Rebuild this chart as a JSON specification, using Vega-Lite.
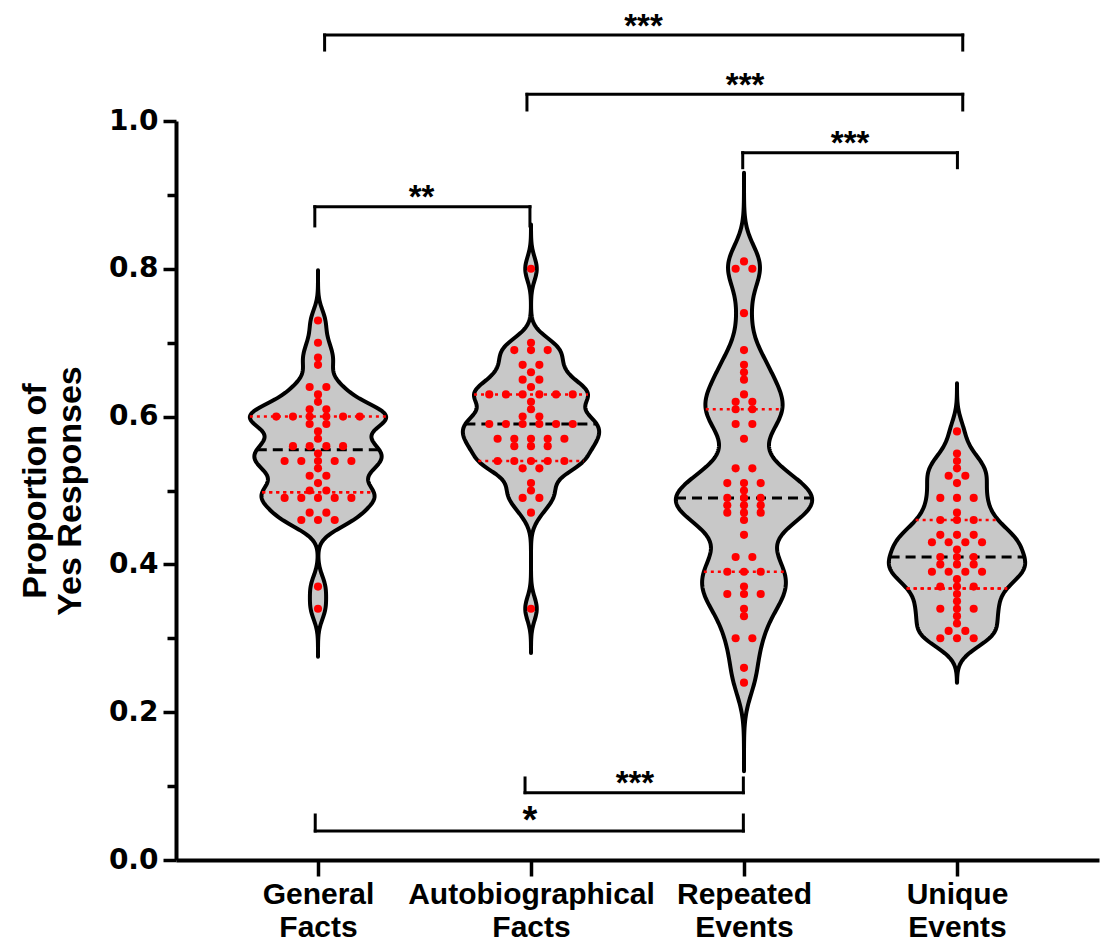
{
  "$schema": "https://vega.github.io/schema/vega-lite/v6.json",
  "width": 923,
  "height": 739,
  "autosize": "none",
  "padding": {"left": 176, "top": 121, "right": 3, "bottom": 83},
  "background": "white",
  "config": {"view": {"stroke": null}},
  "datasets": {
    "pts": [
      {"g":"GF","v":0.73},{"g":"GF","v":0.70},{"g":"GF","v":0.68},{"g":"GF","v":0.67},{"g":"GF","v":0.64},{"g":"GF","v":0.64},{"g":"GF","v":0.63},{"g":"GF","v":0.62},{"g":"GF","v":0.61},{"g":"GF","v":0.61},
      {"g":"GF","v":0.60},{"g":"GF","v":0.60},{"g":"GF","v":0.60},{"g":"GF","v":0.60},{"g":"GF","v":0.60},{"g":"GF","v":0.60},
      {"g":"GF","v":0.59},{"g":"GF","v":0.59},{"g":"GF","v":0.58},{"g":"GF","v":0.57},
      {"g":"GF","v":0.56},{"g":"GF","v":0.56},{"g":"GF","v":0.56},{"g":"GF","v":0.56},{"g":"GF","v":0.55},
      {"g":"GF","v":0.54},{"g":"GF","v":0.54},{"g":"GF","v":0.54},{"g":"GF","v":0.54},{"g":"GF","v":0.54},
      {"g":"GF","v":0.53},{"g":"GF","v":0.52},{"g":"GF","v":0.52},{"g":"GF","v":0.51},{"g":"GF","v":0.50},{"g":"GF","v":0.50},
      {"g":"GF","v":0.49},{"g":"GF","v":0.49},{"g":"GF","v":0.49},{"g":"GF","v":0.49},{"g":"GF","v":0.49},
      {"g":"GF","v":0.47},{"g":"GF","v":0.47},{"g":"GF","v":0.46},{"g":"GF","v":0.46},{"g":"GF","v":0.46},{"g":"GF","v":0.37},{"g":"GF","v":0.34},

      {"g":"AF","v":0.80},{"g":"AF","v":0.70},{"g":"AF","v":0.69},{"g":"AF","v":0.69},{"g":"AF","v":0.69},{"g":"AF","v":0.67},{"g":"AF","v":0.67},{"g":"AF","v":0.66},{"g":"AF","v":0.65},{"g":"AF","v":0.65},{"g":"AF","v":0.64},
      {"g":"AF","v":0.63},{"g":"AF","v":0.63},{"g":"AF","v":0.63},{"g":"AF","v":0.63},{"g":"AF","v":0.63},{"g":"AF","v":0.63},
      {"g":"AF","v":0.62},{"g":"AF","v":0.61},{"g":"AF","v":0.60},{"g":"AF","v":0.60},
      {"g":"AF","v":0.59},{"g":"AF","v":0.59},{"g":"AF","v":0.59},{"g":"AF","v":0.59},{"g":"AF","v":0.59},{"g":"AF","v":0.59},
      {"g":"AF","v":0.57},{"g":"AF","v":0.57},{"g":"AF","v":0.57},{"g":"AF","v":0.57},{"g":"AF","v":0.57},
      {"g":"AF","v":0.56},{"g":"AF","v":0.56},{"g":"AF","v":0.56},
      {"g":"AF","v":0.54},{"g":"AF","v":0.54},{"g":"AF","v":0.54},{"g":"AF","v":0.54},{"g":"AF","v":0.54},
      {"g":"AF","v":0.53},{"g":"AF","v":0.53},{"g":"AF","v":0.51},{"g":"AF","v":0.50},{"g":"AF","v":0.49},{"g":"AF","v":0.49},{"g":"AF","v":0.47},{"g":"AF","v":0.34},

      {"g":"RE","v":0.81},{"g":"RE","v":0.80},{"g":"RE","v":0.80},{"g":"RE","v":0.74},{"g":"RE","v":0.69},{"g":"RE","v":0.67},{"g":"RE","v":0.66},{"g":"RE","v":0.65},{"g":"RE","v":0.63},
      {"g":"RE","v":0.62},{"g":"RE","v":0.62},{"g":"RE","v":0.61},{"g":"RE","v":0.61},{"g":"RE","v":0.59},{"g":"RE","v":0.59},{"g":"RE","v":0.57},
      {"g":"RE","v":0.53},{"g":"RE","v":0.53},{"g":"RE","v":0.51},{"g":"RE","v":0.51},{"g":"RE","v":0.51},{"g":"RE","v":0.50},
      {"g":"RE","v":0.49},{"g":"RE","v":0.49},{"g":"RE","v":0.49},{"g":"RE","v":0.48},{"g":"RE","v":0.48},{"g":"RE","v":0.48},
      {"g":"RE","v":0.47},{"g":"RE","v":0.47},{"g":"RE","v":0.47},{"g":"RE","v":0.46},{"g":"RE","v":0.44},{"g":"RE","v":0.41},{"g":"RE","v":0.41},
      {"g":"RE","v":0.39},{"g":"RE","v":0.39},{"g":"RE","v":0.39},{"g":"RE","v":0.37},{"g":"RE","v":0.36},{"g":"RE","v":0.36},{"g":"RE","v":0.36},
      {"g":"RE","v":0.34},{"g":"RE","v":0.33},{"g":"RE","v":0.30},{"g":"RE","v":0.30},{"g":"RE","v":0.26},{"g":"RE","v":0.24},

      {"g":"UE","v":0.58},{"g":"UE","v":0.55},{"g":"UE","v":0.54},{"g":"UE","v":0.53},{"g":"UE","v":0.52},{"g":"UE","v":0.52},{"g":"UE","v":0.51},
      {"g":"UE","v":0.49},{"g":"UE","v":0.49},{"g":"UE","v":0.49},{"g":"UE","v":0.47},{"g":"UE","v":0.46},{"g":"UE","v":0.46},{"g":"UE","v":0.46},
      {"g":"UE","v":0.44},{"g":"UE","v":0.44},{"g":"UE","v":0.44},{"g":"UE","v":0.43},{"g":"UE","v":0.43},{"g":"UE","v":0.43},{"g":"UE","v":0.43},
      {"g":"UE","v":0.42},{"g":"UE","v":0.41},{"g":"UE","v":0.41},{"g":"UE","v":0.41},{"g":"UE","v":0.40},{"g":"UE","v":0.40},{"g":"UE","v":0.40},
      {"g":"UE","v":0.39},{"g":"UE","v":0.39},{"g":"UE","v":0.39},{"g":"UE","v":0.39},{"g":"UE","v":0.38},{"g":"UE","v":0.37},{"g":"UE","v":0.37},{"g":"UE","v":0.37},
      {"g":"UE","v":0.36},{"g":"UE","v":0.35},{"g":"UE","v":0.34},{"g":"UE","v":0.34},{"g":"UE","v":0.34},{"g":"UE","v":0.33},{"g":"UE","v":0.32},
      {"g":"UE","v":0.31},{"g":"UE","v":0.31},{"g":"UE","v":0.30},{"g":"UE","v":0.30},{"g":"UE","v":0.30}
    ],
    "bh": [
      {"x":1.031,"x2":4.027,"y":1.1164},
      {"x":1.981,"x2":4.027,"y":1.0361},
      {"x":2.994,"x2":4.002,"y":0.9571},
      {"x":0.985,"x2":1.995,"y":0.884},
      {"x":1.972,"x2":2.997,"y":0.0911},
      {"x":0.987,"x2":2.997,"y":0.0392}
    ],
    "bv": [
      {"x":1.031,"y":1.1164,"y2":1.096},{"x":4.027,"y":1.1164,"y2":1.096},
      {"x":1.981,"y":1.0361,"y2":1.0149},{"x":4.027,"y":1.0361,"y2":1.0149},
      {"x":2.994,"y":0.9571,"y2":0.9368},{"x":4.002,"y":0.9571,"y2":0.9368},
      {"x":0.985,"y":0.884,"y2":0.858},{"x":1.995,"y":0.884,"y2":0.858},
      {"x":1.972,"y":0.0911,"y2":0.111},{"x":2.997,"y":0.0911,"y2":0.111},
      {"x":0.987,"y":0.0392,"y2":0.0609},{"x":2.997,"y":0.0392,"y2":0.0609}
    ],
    "bt": [
      {"x":2.528,"y":1.1141,"t":"***"},
      {"x":3.005,"y":1.0338,"t":"***"},
      {"x":3.498,"y":0.956,"t":"***"},
      {"x":1.486,"y":0.8827,"t":"**"},
      {"x":2.488,"y":0.0888,"t":"***"},
      {"x":1.995,"y":0.0359,"t":"*"}
    ]
  },
  "layer": [
    {
      "data": {"name": "pts"},
      "transform": [
        {"filter": "datum.g == 'GF'"},
        {"joinaggregate": [{"op":"median","field":"v","as":"med"},{"op":"q1","field":"v","as":"qa"},{"op":"q3","field":"v","as":"qb"},{"op":"min","field":"v","as":"lo"},{"op":"max","field":"v","as":"hi"}]},
        {"density": "v", "groupby": ["med","qa","qb","lo","hi"], "bandwidth": 0.016, "extent": [0, 1], "steps": 1000, "as": ["yv","dens"]},
        {"filter": "datum.yv >= datum.lo - 0.065 && datum.yv <= datum.hi + 0.068"},
        {"joinaggregate": [{"op":"max","field":"dens","as":"dmax"}]},
        {"calculate": "1 - 0.32*datum.dens/datum.dmax", "as": "xl"},
        {"calculate": "1 + 0.32*datum.dens/datum.dmax", "as": "xr"}
      ],
      "layer": [
        {"mark": {"type":"area","orient":"horizontal","fill":"#c8c8c8","stroke":"black","strokeWidth":4,"strokeJoin":"round"},
         "encoding": {"y":{"field":"yv","type":"quantitative"},"x":{"field":"xl","type":"quantitative"},"x2":{"field":"xr"}}},
        {"transform":[{"filter":"abs(datum.yv - datum.med) < 0.0006"}],
         "mark": {"type":"rule","color":"black","strokeWidth":3,"strokeDash":[10,6]},
         "encoding": {"y":{"field":"med","type":"quantitative"},"x":{"field":"xl","type":"quantitative"},"x2":{"field":"xr"}}},
        {"transform":[{"filter":"abs(datum.yv - datum.qa) < 0.0006"}],
         "mark": {"type":"rule","color":"#ff0000","strokeWidth":2.5,"strokeDash":[3,4]},
         "encoding": {"y":{"field":"qa","type":"quantitative"},"x":{"field":"xl","type":"quantitative"},"x2":{"field":"xr"}}},
        {"transform":[{"filter":"abs(datum.yv - datum.qb) < 0.0006"}],
         "mark": {"type":"rule","color":"#ff0000","strokeWidth":2.5,"strokeDash":[3,4]},
         "encoding": {"y":{"field":"qb","type":"quantitative"},"x":{"field":"xl","type":"quantitative"},"x2":{"field":"xr"}}}
      ]
    },
    {
      "data": {"name": "pts"},
      "transform": [
        {"filter": "datum.g == 'AF'"},
        {"joinaggregate": [{"op":"median","field":"v","as":"med"},{"op":"q1","field":"v","as":"qa"},{"op":"q3","field":"v","as":"qb"},{"op":"min","field":"v","as":"lo"},{"op":"max","field":"v","as":"hi"}]},
        {"density": "v", "groupby": ["med","qa","qb","lo","hi"], "bandwidth": 0.016, "extent": [0, 1], "steps": 1000, "as": ["yv","dens"]},
        {"filter": "datum.yv >= datum.lo - 0.06 && datum.yv <= datum.hi + 0.06"},
        {"joinaggregate": [{"op":"max","field":"dens","as":"dmax"}]},
        {"calculate": "2 - 0.32*datum.dens/datum.dmax", "as": "xl"},
        {"calculate": "2 + 0.32*datum.dens/datum.dmax", "as": "xr"}
      ],
      "layer": [
        {"mark": {"type":"area","orient":"horizontal","fill":"#c8c8c8","stroke":"black","strokeWidth":4,"strokeJoin":"round"},
         "encoding": {"y":{"field":"yv","type":"quantitative"},"x":{"field":"xl","type":"quantitative"},"x2":{"field":"xr"}}},
        {"transform":[{"filter":"abs(datum.yv - datum.med) < 0.0006"}],
         "mark": {"type":"rule","color":"black","strokeWidth":3,"strokeDash":[10,6]},
         "encoding": {"y":{"field":"med","type":"quantitative"},"x":{"field":"xl","type":"quantitative"},"x2":{"field":"xr"}}},
        {"transform":[{"filter":"abs(datum.yv - datum.qa) < 0.0006"}],
         "mark": {"type":"rule","color":"#ff0000","strokeWidth":2.5,"strokeDash":[3,4]},
         "encoding": {"y":{"field":"qa","type":"quantitative"},"x":{"field":"xl","type":"quantitative"},"x2":{"field":"xr"}}},
        {"transform":[{"filter":"abs(datum.yv - datum.qb) < 0.0006"}],
         "mark": {"type":"rule","color":"#ff0000","strokeWidth":2.5,"strokeDash":[3,4]},
         "encoding": {"y":{"field":"qb","type":"quantitative"},"x":{"field":"xl","type":"quantitative"},"x2":{"field":"xr"}}}
      ]
    },
    {
      "data": {"name": "pts"},
      "transform": [
        {"filter": "datum.g == 'RE'"},
        {"joinaggregate": [{"op":"median","field":"v","as":"med"},{"op":"q1","field":"v","as":"qa"},{"op":"q3","field":"v","as":"qb"},{"op":"min","field":"v","as":"lo"},{"op":"max","field":"v","as":"hi"}]},
        {"density": "v", "groupby": ["med","qa","qb","lo","hi"], "bandwidth": 0.028, "extent": [0, 1], "steps": 1000, "as": ["yv","dens"]},
        {"filter": "datum.yv >= datum.lo - 0.12 && datum.yv <= datum.hi + 0.12"},
        {"joinaggregate": [{"op":"max","field":"dens","as":"dmax"}]},
        {"calculate": "3 - 0.32*datum.dens/datum.dmax", "as": "xl"},
        {"calculate": "3 + 0.32*datum.dens/datum.dmax", "as": "xr"}
      ],
      "layer": [
        {"mark": {"type":"area","orient":"horizontal","fill":"#c8c8c8","stroke":"black","strokeWidth":4,"strokeJoin":"round"},
         "encoding": {"y":{"field":"yv","type":"quantitative"},"x":{"field":"xl","type":"quantitative"},"x2":{"field":"xr"}}},
        {"transform":[{"filter":"abs(datum.yv - datum.med) < 0.0006"}],
         "mark": {"type":"rule","color":"black","strokeWidth":3,"strokeDash":[10,6]},
         "encoding": {"y":{"field":"med","type":"quantitative"},"x":{"field":"xl","type":"quantitative"},"x2":{"field":"xr"}}},
        {"transform":[{"filter":"abs(datum.yv - datum.qa) < 0.0006"}],
         "mark": {"type":"rule","color":"#ff0000","strokeWidth":2.5,"strokeDash":[3,4]},
         "encoding": {"y":{"field":"qa","type":"quantitative"},"x":{"field":"xl","type":"quantitative"},"x2":{"field":"xr"}}},
        {"transform":[{"filter":"abs(datum.yv - datum.qb) < 0.0006"}],
         "mark": {"type":"rule","color":"#ff0000","strokeWidth":2.5,"strokeDash":[3,4]},
         "encoding": {"y":{"field":"qb","type":"quantitative"},"x":{"field":"xl","type":"quantitative"},"x2":{"field":"xr"}}}
      ]
    },
    {
      "data": {"name": "pts"},
      "transform": [
        {"filter": "datum.g == 'UE'"},
        {"joinaggregate": [{"op":"median","field":"v","as":"med"},{"op":"q1","field":"v","as":"qa"},{"op":"q3","field":"v","as":"qb"},{"op":"min","field":"v","as":"lo"},{"op":"max","field":"v","as":"hi"}]},
        {"density": "v", "groupby": ["med","qa","qb","lo","hi"], "bandwidth": 0.018, "extent": [0, 1], "steps": 1000, "as": ["yv","dens"]},
        {"filter": "datum.yv >= datum.lo - 0.06 && datum.yv <= datum.hi + 0.065"},
        {"joinaggregate": [{"op":"max","field":"dens","as":"dmax"}]},
        {"calculate": "4 - 0.32*datum.dens/datum.dmax", "as": "xl"},
        {"calculate": "4 + 0.32*datum.dens/datum.dmax", "as": "xr"}
      ],
      "layer": [
        {"mark": {"type":"area","orient":"horizontal","fill":"#c8c8c8","stroke":"black","strokeWidth":4,"strokeJoin":"round"},
         "encoding": {"y":{"field":"yv","type":"quantitative"},"x":{"field":"xl","type":"quantitative"},"x2":{"field":"xr"}}},
        {"transform":[{"filter":"abs(datum.yv - datum.med) < 0.0006"}],
         "mark": {"type":"rule","color":"black","strokeWidth":3,"strokeDash":[10,6]},
         "encoding": {"y":{"field":"med","type":"quantitative"},"x":{"field":"xl","type":"quantitative"},"x2":{"field":"xr"}}},
        {"transform":[{"filter":"abs(datum.yv - datum.qa) < 0.0006"}],
         "mark": {"type":"rule","color":"#ff0000","strokeWidth":2.5,"strokeDash":[3,4]},
         "encoding": {"y":{"field":"qa","type":"quantitative"},"x":{"field":"xl","type":"quantitative"},"x2":{"field":"xr"}}},
        {"transform":[{"filter":"abs(datum.yv - datum.qb) < 0.0006"}],
         "mark": {"type":"rule","color":"#ff0000","strokeWidth":2.5,"strokeDash":[3,4]},
         "encoding": {"y":{"field":"qb","type":"quantitative"},"x":{"field":"xl","type":"quantitative"},"x2":{"field":"xr"}}}
      ]
    },
    {
      "data": {"name": "pts"},
      "transform": [
        {"calculate": "indexof(['GF','AF','RE','UE'], datum.g) + 1", "as": "gi"},
        {"window": [{"op": "row_number", "as": "rk"}], "groupby": ["g", "v"]},
        {"joinaggregate": [{"op": "count", "as": "cnt"}], "groupby": ["g", "v"]},
        {"calculate": "datum.gi + (datum.rk - (datum.cnt + 1) / 2) * 0.0784", "as": "px"}
      ],
      "mark": {"type": "circle", "size": 66, "color": "#ff0000", "opacity": 1},
      "encoding": {
        "x": {
          "field": "px", "type": "quantitative",
          "scale": {"domain": [0.3333, 4.6667], "nice": false, "zero": false},
          "axis": {
            "title": null, "grid": false,
            "values": [1, 2, 3, 4],
            "labelExpr": "datum.value == 1 ? ['General','Facts'] : datum.value == 2 ? ['Autobiographical','Facts'] : datum.value == 3 ? ['Repeated','Events'] : ['Unique','Events']",
            "labelFont": "Liberation Sans", "labelFontSize": 30, "labelFontWeight": "bold", "labelColor": "black",
            "labelLineHeight": 33, "labelPadding": 3, "labelLimit": 0, "labelOverlap": false,
            "tickSize": 16, "tickWidth": 3.5, "tickColor": "black",
            "domainWidth": 4, "domainColor": "black"
          }
        },
        "y": {
          "field": "v", "type": "quantitative",
          "scale": {"domain": [0, 1], "nice": false, "zero": true},
          "axis": {
            "title": ["Proportion of", "Yes Responses"],
            "titleFont": "Liberation Sans", "titleFontSize": 34, "titleFontWeight": "bold", "titleColor": "black",
            "titleLineHeight": 35, "titlePadding": 21,
            "grid": false,
            "values": [0, 0.1, 0.2, 0.3, 0.4, 0.5, 0.6, 0.7, 0.8, 0.9, 1.0],
            "labelExpr": "round(datum.value * 10) % 2 == 0 ? format(datum.value, '.1f') : ''",
            "labelFont": "DejaVu Sans", "labelFontSize": 28, "labelFontWeight": "bold", "labelColor": "black", "labelPadding": 5,
            "tickSize": {"condition": {"test": "round(datum.value * 10) % 2 == 1", "value": 9}, "value": 13},
            "tickWidth": 3.5, "tickColor": "black",
            "domainWidth": 4, "domainColor": "black"
          }
        }
      }
    },
    {
      "data": {"name": "bh"},
      "mark": {"type": "rule", "color": "black", "strokeWidth": 3, "strokeCap": "square"},
      "encoding": {
        "x": {"field": "x", "type": "quantitative"},
        "x2": {"field": "x2"},
        "y": {"field": "y", "type": "quantitative"}
      }
    },
    {
      "data": {"name": "bv"},
      "mark": {"type": "rule", "color": "black", "strokeWidth": 3, "strokeCap": "square"},
      "encoding": {
        "x": {"field": "x", "type": "quantitative"},
        "y": {"field": "y", "type": "quantitative"},
        "y2": {"field": "y2"}
      }
    },
    {
      "data": {"name": "bt"},
      "mark": {"type": "text", "font": "Liberation Sans", "fontWeight": "bold", "align": "center", "baseline": "alphabetic", "color": "black"},
      "encoding": {
        "x": {"field": "x", "type": "quantitative"},
        "y": {"field": "y", "type": "quantitative"},
        "text": {"field": "t"},
        "size": {"condition": {"test": "datum.t == '*'", "value": 38}, "value": 33}
      }
    }
  ]
}
